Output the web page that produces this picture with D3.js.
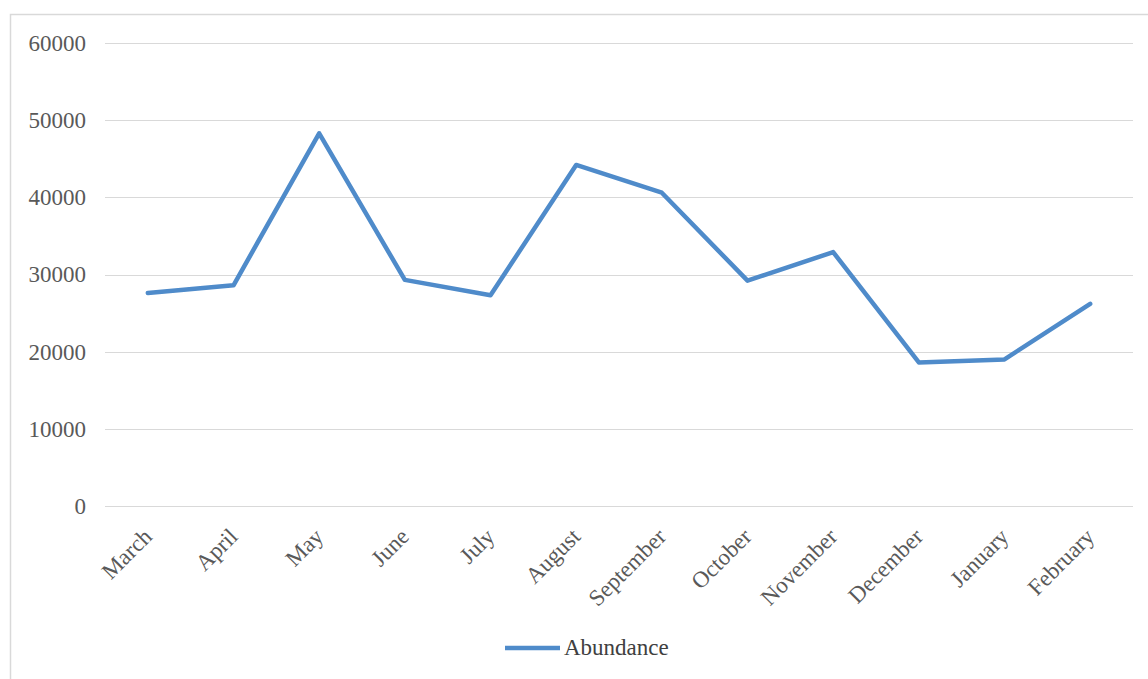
<!DOCTYPE html>
<html>
<head>
<meta charset="utf-8">
<script src="https://cdn.jsdelivr.net/npm/d3@7"></script>
<style>
  html, body { margin: 0; padding: 0; background: #fff; }
  svg { display: block; }
</style>
</head>
<body>
<svg id="chart" width="1148" height="679"></svg>
<script>
const months = ["March","April","May","June","July","August","September","October","November","December","January","February"];
const abundance = [27600, 28600, 48300, 29300, 27300, 44200, 40600, 29200, 32900, 18600, 19000, 26200];
const yTicks = [0, 10000, 20000, 30000, 40000, 50000, 60000];
const seriesName = "Abundance";

const svg = d3.select("#chart");
const plot = { left: 105, right: 1133, top: 43, bottom: 506 };
const FONT = "'Liberation Serif', 'Times New Roman', serif";

svg.append("rect").attr("x", 10.5).attr("y", 14.5).attr("width", 1160).attr("height", 700)
  .attr("fill", "#fff").attr("stroke", "#d9d9d9").attr("stroke-width", 1.5);

const x = d3.scalePoint().domain(months).range([plot.left, plot.right]).padding(0.5);
const y = d3.scaleLinear().domain([0, 60000]).range([plot.bottom, plot.top]);

// gridlines
svg.append("g").selectAll("line").data(yTicks).join("line")
  .attr("x1", plot.left).attr("x2", plot.right)
  .attr("y1", d => Math.round(y(d)) + 0.5).attr("y2", d => Math.round(y(d)) + 0.5)
  .attr("stroke", "#d9d9d9").attr("stroke-width", 1.2);

// y axis labels
const yAxis = d3.axisLeft(y).tickValues(yTicks).tickSize(0).tickPadding(0).tickFormat(d3.format("d"));
const gy = svg.append("g").attr("transform", `translate(86,0)`).call(yAxis);
gy.select(".domain").remove();
gy.selectAll("text").attr("font-family", FONT)
  .attr("font-size", 23).attr("fill", "#595959");

// x axis labels
const xAxis = d3.axisBottom(x).tickSize(0).tickPadding(0);
const gx = svg.append("g").attr("transform", `translate(0,${plot.bottom})`).call(xAxis);
gx.select(".domain").remove();
gx.selectAll("text")
  .attr("font-family", FONT)
  .attr("font-size", 23).attr("fill", "#595959")
  .attr("text-anchor", "end").attr("dy", null).attr("y", 0)
  .attr("transform", "translate(5,32) rotate(-45)");

// line
const line = d3.line().x((d, i) => x(months[i])).y(d => y(d));
svg.append("path").datum(abundance)
  .attr("d", line).attr("fill", "none")
  .attr("stroke", "#4f8bca").attr("stroke-width", 4.5)
  .attr("stroke-linejoin", "round").attr("stroke-linecap", "round");

// legend
const lg = svg.append("g").attr("transform", "translate(505,648)");
lg.append("line").attr("x1", 0).attr("x2", 55).attr("y1", 0).attr("y2", 0)
  .attr("stroke", "#4f8bca").attr("stroke-width", 4.5);
lg.append("text").attr("x", 59).attr("y", 7).text(seriesName)
  .attr("font-family", FONT)
  .attr("font-size", 23).attr("fill", "#404040");
</script>
</body>
</html>
